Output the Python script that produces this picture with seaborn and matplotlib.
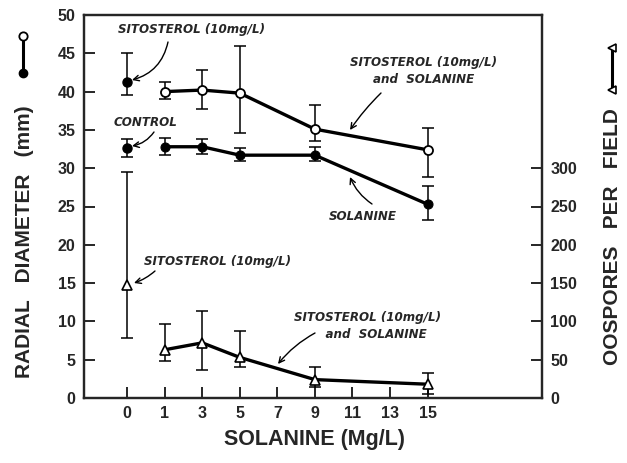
import matplotlib
matplotlib.use("Agg")
import matplotlib.pyplot as plt
import seaborn as sns
import pandas as pd
from matplotlib.lines import Line2D

sns.set_style("ticks")
plt.rcParams['font.family'] = ['Liberation Sans', 'DejaVu Sans']

# ---- data ----
x_labels = ["0", "1", "3", "5", "7", "9", "11", "13", "15"]
sol_x = ["1", "3", "5", "9", "15"]

# radial diameter (mm)
sito_alone_rd = 41.3
sito_alone_rd_err = (39.5, 45.0)
control_rd = 32.6
control_rd_err = (31.5, 33.8)

sito_sol_rd = [40.0, 40.2, 39.8, 35.1, 32.4]
sito_sol_rd_lo = [39.0, 37.7, 34.6, 33.5, 28.9]
sito_sol_rd_hi = [41.2, 42.8, 46.0, 38.3, 35.3]

sol_rd = [32.8, 32.8, 31.7, 31.7, 25.3]
sol_rd_lo = [31.7, 31.9, 30.9, 30.9, 23.2]
sol_rd_hi = [34.0, 33.8, 32.6, 32.8, 27.7]

# oospores per field
sito_alone_oo = 148
sito_alone_oo_err = (78, 295)
sito_sol_oo = [63, 72, 53, 24, 18]
sito_sol_oo_lo = [48, 37, 41, 14, 5]
sito_sol_oo_hi = [97, 113, 87, 41, 33]

pos = {lab: i for i, lab in enumerate(x_labels)}
xs = [pos[v] for v in sol_x]

fig = plt.figure(figsize=(6.27, 4.63), dpi=100)
ax = fig.add_axes([84/627, 65/463, (542-84)/627, (398-15)/463])
ax2 = ax.twinx()

lw = 2.4
ms = 6.5
ekw = dict(fmt='none', ecolor='black', elinewidth=1.1, capsize=4, capthick=1.1)

def err(ax_, x, y, lo, hi):
    ax_.errorbar(x, y, yerr=[[yy - l for yy, l in zip(y, lo)], [h - yy for yy, h in zip(y, hi)]], **ekw)

# sitosterol + solanine (radial)
df1 = pd.DataFrame({"x": xs, "y": sito_sol_rd})
err(ax, xs, sito_sol_rd, sito_sol_rd_lo, sito_sol_rd_hi)
sns.lineplot(data=df1, x="x", y="y", ax=ax, color="black", lw=lw, marker="o",
             markersize=ms, markerfacecolor="white", markeredgecolor="black",
             markeredgewidth=1.3, zorder=3)

# solanine (radial)
df2 = pd.DataFrame({"x": xs, "y": sol_rd})
err(ax, xs, sol_rd, sol_rd_lo, sol_rd_hi)
sns.lineplot(data=df2, x="x", y="y", ax=ax, color="black", lw=lw, marker="o",
             markersize=ms, markerfacecolor="black", markeredgecolor="black", zorder=3)

# singletons at 0
err(ax, [0], [sito_alone_rd], [sito_alone_rd_err[0]], [sito_alone_rd_err[1]])
err(ax, [0], [control_rd], [control_rd_err[0]], [control_rd_err[1]])
ax.plot([0, 0], [sito_alone_rd, control_rd], ls='none', marker='o', ms=ms,
        mfc='black', mec='black', zorder=3)

# oospores
df3 = pd.DataFrame({"x": xs, "y": sito_sol_oo})
err(ax2, xs, sito_sol_oo, sito_sol_oo_lo, sito_sol_oo_hi)
sns.lineplot(data=df3, x="x", y="y", ax=ax2, color="black", lw=lw, marker="^",
             markersize=ms, markerfacecolor="white", markeredgecolor="black",
             markeredgewidth=1.2, zorder=3)
err(ax2, [0], [sito_alone_oo], [sito_alone_oo_err[0]], [sito_alone_oo_err[1]])
ax2.plot([0], [sito_alone_oo], ls='none', marker='^', ms=ms, mfc='white',
         mec='black', mew=1.2, zorder=3)

# axes
ax.set_xlim(-1.15, 11.05)
ax.set_ylim(0, 50)
ax2.set_ylim(0, 500)
ax.set_xticks(range(len(x_labels)))
ax.set_xticklabels(x_labels)
ax.set_yticks(range(0, 51, 5))
ax2.set_yticks(range(0, 301, 50))
for a in (ax, ax2):
    for s in a.spines.values():
        s.set_linewidth(1.6)
        s.set_visible(True)
ax.tick_params(axis='both', direction='in', length=8, width=1.4, labelsize=11.5, pad=6)
ax2.tick_params(axis='y', direction='in', length=8, width=1.4, labelsize=11.5, pad=6)
for lab in ax.get_xticklabels() + ax.get_yticklabels() + ax2.get_yticklabels():
    lab.set_fontweight('bold')
ax.set_xlabel("")
ax.set_ylabel("")
ax2.set_ylabel("")

fig.text(315/627, 1 - 440/463, "SOLANINE (Mg/L)", ha='center', va='center',
         fontsize=15.5, fontweight='bold')
fig.text(25/627, 1 - 242/463, "RADIAL   DIAMETER   (mm)", ha='center', va='center',
         fontsize=15, fontweight='bold', rotation=90)
fig.text(612/627, 1 - 237/463, "OOSPORES   PER   FIELD", ha='center', va='center',
         fontsize=15, fontweight='bold', rotation=90)

# legend glyphs
fig.add_artist(Line2D([23/627, 23/627], [1 - 36/463, 1 - 73/463], color='black', lw=2.2,
                      transform=fig.transFigure))
fig.add_artist(Line2D([23/627], [1 - 36/463], marker='o', ms=6, mfc='white', mec='black',
                      mew=1.3, transform=fig.transFigure))
fig.add_artist(Line2D([23/627], [1 - 73/463], marker='o', ms=6, mfc='black', mec='black',
                      transform=fig.transFigure))
fig.add_artist(Line2D([612/627, 612/627], [1 - 48/463, 1 - 90/463], color='black', lw=2.2,
                      transform=fig.transFigure))
fig.add_artist(Line2D([612/627], [1 - 48/463], marker='<', ms=6, mfc='white', mec='black',
                      mew=1.2, transform=fig.transFigure))
fig.add_artist(Line2D([612/627], [1 - 90/463], marker='<', ms=6, mfc='white', mec='black',
                      mew=1.2, transform=fig.transFigure))

# annotations
afont = dict(fontsize=8.6, fontweight='bold', fontstyle='italic', family=['DejaVu Sans'])
ap = dict(arrowstyle='->', color='black', lw=1.0)

def fig_xy(px, py):
    return (px / 627, 1 - py / 463)

def arrow(start, end, rad):
    ax.annotate("", xy=fig_xy(*end), xycoords='figure fraction',
                xytext=fig_xy(*start), textcoords='figure fraction',
                arrowprops=dict(ap, connectionstyle=f'arc3,rad={rad}', shrinkA=0, shrinkB=0))

def label(txt, px, py, ha='center'):
    fig.text(px / 627, 1 - py / 463, txt, ha=ha, va='center', linespacing=1.45, **afont)

label("SITOSTEROL (10mg/L)", 192, 30)
arrow((168, 42), (132, 80), -0.3)

label("CONTROL", 146, 122)
arrow((154, 132), (132, 146), -0.2)

label("SITOSTEROL (10mg/L)\nand  SOLANINE", 424, 71)
arrow((381, 93), (350, 130), 0.05)

label("SOLANINE", 363, 216)
arrow((372, 204), (350, 177), -0.15)

label("SITOSTEROL (10mg/L)", 217, 261)
arrow((155, 271), (134, 283), -0.1)

label("SITOSTEROL (10mg/L)\n    and  SOLANINE", 368, 326)
arrow((315, 333), (278, 364), 0.1)

fig.savefig("out.png", dpi=100)
